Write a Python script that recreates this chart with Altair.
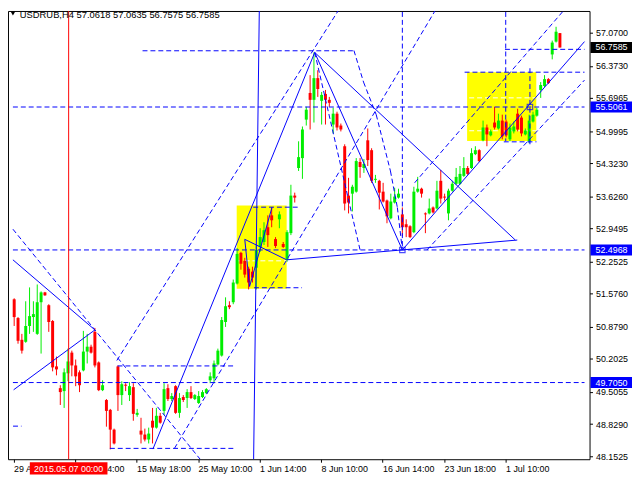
import json
import altair as alt
import pandas as pd

# ---------------- data (USDRUB, H4) ----------------
opens = [51.458, 51.063, 50.605, 50.563, 50.896, 51.084, 50.730, 51.396, 51.603, 51.333,
         51.000, 50.045, 49.587, 49.525, 49.899, 50.335, 50.065, 49.920, 49.961, 50.357,
         50.460, 50.772, 50.128, 49.545, 49.337, 49.130, 48.714, 50.045, 49.441, 49.660,
         49.441, 49.608, 49.025, 48.693, 48.610, 48.506, 48.901, 48.756, 49.005, 49.108,
         49.587, 49.358, 49.629, 49.067, 49.400, 49.379, 49.504, 49.358, 49.275, 49.400,
         49.483, 49.753, 49.795, 50.086, 50.273, 50.980, 51.333, 51.396, 51.790, 52.435,
         52.268, 52.102, 52.040, 52.123, 52.560, 52.664, 52.975, 53.225, 52.726, 53.142,
         52.622, 52.289, 52.851, 53.641, 54.222, 54.430, 55.241, 55.802, 55.657, 56.114,
         55.636, 55.782, 55.657, 55.137, 55.366, 55.116, 54.680, 53.641, 53.682, 53.724,
         54.348, 54.222, 54.805, 54.597, 53.973, 53.952, 53.724, 53.537, 53.163, 53.495,
         53.599, 53.246, 53.038, 52.996, 52.871, 53.724, 53.786, 53.266, 53.266, 53.391,
         53.370, 53.952, 53.620, 53.266, 53.744, 53.890, 53.890, 54.056, 54.222, 54.222,
         54.514, 54.597, 54.805, 55.075, 54.909, 55.179, 55.054, 55.220, 55.200, 54.825,
         54.992, 55.366, 55.283, 54.929, 54.784, 55.200, 55.324, 55.865, 55.948, 56.093,
         56.613, 56.883, 57.0618]
closes = [51.083, 50.584, 50.377, 50.896, 51.104, 51.146, 51.396, 51.603, 51.541, 50.980,
          50.024, 49.982, 49.504, 49.920, 50.149, 50.065, 49.836, 49.649, 50.357, 50.460,
          50.335, 50.065, 49.545, 49.649, 49.108, 48.714, 48.423, 49.441, 49.670, 49.639,
          49.629, 49.046, 49.067, 48.610, 48.506, 48.631, 48.756, 49.005, 48.860, 49.566,
          49.358, 49.421, 49.067, 49.379, 49.337, 49.504, 49.379, 49.441, 49.421, 49.504,
          49.566, 49.836, 50.107, 50.377, 51.021, 51.312, 51.292, 51.811, 52.414, 52.206,
          51.978, 51.811, 51.915, 52.497, 52.767, 52.913, 52.809, 53.121, 52.580, 53.246,
          52.560, 52.871, 53.641, 53.599, 54.451, 55.033, 55.449, 55.657, 56.114, 55.885,
          55.761, 55.657, 55.594, 55.366, 55.075, 55.033, 53.474, 53.495, 53.828, 54.368,
          54.243, 54.306, 54.389, 53.952, 53.994, 53.703, 53.516, 53.204, 53.516, 53.620,
          53.682, 52.975, 52.975, 52.767, 53.724, 53.786, 53.682, 53.246, 53.370, 53.287,
          53.744, 53.578, 53.599, 53.744, 53.890, 54.035, 54.098, 54.222, 54.098, 54.534,
          54.597, 54.368, 55.075, 54.929, 54.992, 55.075, 55.220, 54.888, 54.909, 55.075,
          55.096, 55.033, 54.950, 55.012, 55.220, 55.345, 55.449, 55.969, 56.093, 56.010,
          56.863, 57.091, 56.7585]
highs = [51.479, 51.084, 50.730, 51.416, 51.708, 51.416, 51.770, 51.624, 51.614, 51.354,
         51.021, 50.252, 49.649, 50.003, 50.419, 50.377, 50.190, 49.961, 50.793, 50.730,
         50.502, 50.855, 50.149, 49.753, 49.358, 49.150, 48.735, 50.065, 49.732, 49.691,
         49.712, 49.691, 49.150, 48.963, 48.735, 48.756, 49.171, 49.171, 49.067, 49.691,
         49.670, 49.483, 49.649, 49.483, 49.441, 49.566, 49.629, 49.462, 49.525, 49.545,
         49.587, 49.920, 50.169, 50.419, 51.084, 51.499, 51.416, 51.874, 52.539, 52.456,
         52.331, 52.144, 52.144, 52.601, 52.954, 53.080, 53.225, 53.391, 52.767, 53.308,
         52.664, 52.913, 53.869, 53.703, 54.784, 55.096, 55.511, 56.177, 56.655, 56.281,
         55.823, 55.865, 55.719, 55.491, 55.407, 55.158, 54.721, 54.015, 53.869, 54.431,
         54.431, 54.410, 55.054, 54.638, 54.077, 53.973, 53.910, 53.557, 53.682, 53.807,
         53.786, 53.391, 53.142, 53.017, 53.827, 54.035, 53.807, 53.287, 53.578, 53.412,
         53.952, 54.181, 53.682, 53.786, 53.952, 54.223, 54.264, 54.451, 54.264, 54.638,
         54.680, 54.618, 55.220, 55.137, 55.033, 55.511, 55.366, 55.345, 55.241, 55.158,
         55.200, 55.470, 55.324, 55.054, 55.345, 55.407, 55.491, 56.031, 56.177, 56.114,
         56.904, 57.195, 57.0635]
lows = [50.896, 50.523, 50.315, 50.543, 50.730, 50.772, 50.709, 50.315, 51.531, 50.772,
        49.941, 49.857, 49.233, 49.171, 49.733, 49.836, 49.629, 49.504, 49.941, 50.107,
        50.315, 50.024, 49.525, 49.525, 48.776, 48.298, 48.402, 49.108, 49.233, 49.525,
        49.316, 48.901, 48.984, 48.423, 48.465, 48.423, 48.423, 48.735, 48.839, 49.025,
        49.316, 49.316, 49.046, 48.963, 49.296, 49.171, 49.358, 49.337, 49.254, 49.379,
        49.462, 49.691, 49.691, 50.065, 50.252, 50.876, 51.250, 51.354, 51.770, 52.081,
        51.915, 51.666, 51.811, 51.666, 52.456, 52.601, 52.560, 52.975, 52.539, 52.954,
        52.539, 52.248, 52.809, 53.495, 54.160, 53.994, 55.116, 55.033, 55.179, 55.719,
        55.137, 55.137, 55.511, 54.950, 55.012, 54.992, 53.329, 53.266, 53.308, 53.703,
        54.015, 54.119, 54.264, 53.910, 53.910, 53.349, 53.495, 53.059, 53.142, 53.474,
        53.578, 52.788, 52.767, 52.747, 52.850, 53.703, 53.599, 52.850, 53.246, 53.266,
        53.349, 53.474, 53.537, 53.121, 53.724, 53.869, 53.869, 54.035, 54.077, 54.202,
        54.493, 54.348, 54.784, 54.680, 54.888, 55.033, 55.033, 54.825, 54.867, 54.784,
        54.950, 54.992, 54.888, 54.909, 54.742, 55.179, 55.303, 55.698, 55.927, 55.990,
        56.509, 56.863, 56.7575]

x_labels = ["29 Apr 2015", "7 May 14:00", "15 May 18:00", "25 May 10:00", "1 Jun 14:00",
            "8 Jun 10:00", "16 Jun 14:00", "23 Jun 18:00", "1 Jul 10:00"]
x_label_bars = [-0.15, 15.85, 31.85, 47.85, 63.85, 79.85, 95.85, 111.85, 127.85]
y_ticks = [57.0700, 56.3730, 55.6965, 54.9995, 54.3230, 53.6260, 52.9495, 52.2525,
           51.5760, 50.8790, 50.2025, 49.5055, 48.8290, 48.1525]

# horizontal price levels with axis boxes
level_prices = [56.7585, 55.5061, 52.4968, 49.7050]
level_labels = ["56.7585", "55.5061", "52.4968", "49.7050"]
level_colors = ["#000000", "#0000FF", "#0000FF", "#0000FF"]

# analysis objects: (bar1, price1, bar2, price2)
solid_segments = [
    (36.1, 48.305, 78.2, 56.655), (78.2, 56.655, 101.0, 52.497),
    (101.0, 52.497, 148.4, 56.883), (78.2, 56.655, 130.4, 52.705),
    (70.9, 52.289, 130.9, 52.705), (-0.33, 52.289, 21.0, 50.813),
    (-0.15, 49.552, 21.0, 50.813), (63.8, 57.673, 62.3, 48.090),
    (60.0, 52.720, 70.9, 52.289), (60.0, 52.720, 61.25, 51.728),
    (61.25, 51.728, 67.1, 53.397),
]
dashed_segments = [
    (-0.33, 55.5061, 148.4, 55.5061), (-0.33, 52.4968, 148.4, 52.4968),
    (-0.33, 49.7050, 148.4, 49.7050), (127.7, 56.720, 148.4, 56.720),
    (117.2, 56.239, 148.4, 56.239), (33.4, 56.690, 88.4, 56.690),
    (26.9, 50.055, 57.2, 50.055), (24.9, 48.319, 57.2, 48.319),
    (-0.3, 48.787, 1.9, 48.787), (62.2, 53.397, 74.2, 53.397),
    (62.4, 51.701, 74.9, 51.701), (127.4, 54.773, 135.9, 54.773),
    (101.0, 57.673, 101.0, 52.497), (127.9, 57.673, 127.9, 54.784),
    (134.2, 56.322, 134.2, 54.659),
    (26.7, 50.169, 85.4, 57.673), (41.7, 48.319, 110.4, 57.652),
    (-0.33, 52.934, 48.4, 48.090), (78.2, 56.655, 90.0, 52.497),
    (88.4, 56.696, 90.9, 56.031), (90.9, 56.031, 94.2, 55.345),
    (94.2, 55.345, 97.9, 54.160), (97.9, 54.160, 99.7, 53.391),
    (99.7, 53.391, 101.0, 52.497),
    (104.2, 53.911, 144.2, 57.652), (107.4, 52.497, 148.4, 56.073),
]
white_segments = [
    (57.9, 53.948, 70.9, 53.948), (57.9, 52.268, 70.9, 52.268),
    (118.4, 55.699, 135.85, 55.699), (118.4, 55.006, 135.85, 55.006),
]
yellow_boxes = [(57.9, 51.680, 70.9, 53.433), (117.85, 54.790, 135.85, 56.239)]
square_marks = [(101.0, 52.497), (134.2, 55.5061)]
vline_bar = 14.17
vline_text = "2015.05.07 00:00"
title_text = "USDRUB,H4  57.0618 57.0635 56.7575 56.7585"

# ---------------- chart ----------------
W, H = 589, 454
XD = [-0.325, 148.425]
YD = [48.0904, 57.5277]
FONT = "Liberation Sans"
BLUE = "#0000FF"
px_per_bar = W / (XD[1] - XD[0])
px_per_price = H / (YD[1] - YD[0])

xs = alt.Scale(domain=XD, nice=False, zero=False)
ys = alt.Scale(domain=YD, nice=False, zero=False)
x_axis = alt.Axis(values=x_label_bars,
                  labelExpr=json.dumps(x_labels) + "[round((datum.value + 0.15) / 16)]",
                  title=None, grid=False, domain=False, tickSize=3, tickColor="black",
                  labelAlign="left", labelBaseline="top", labelPadding=2, labelFont=FONT,
                  labelFontSize=9, labelColor="black", labelFlush=False, labelOverlap=False)
y_axis = alt.Axis(orient="right", values=y_ticks, format=".4f", title=None, grid=False,
                  domain=False, tickSize=3, tickColor="black", labelAlign="left",
                  labelBaseline="middle", labelPadding=3, labelFont=FONT, labelFontSize=9,
                  labelColor="black", labelFlush=False, labelOverlap=False)


def X(f):
    return alt.X(f, type="quantitative", scale=xs, axis=x_axis)


def Y(f):
    return alt.Y(f, type="quantitative", scale=ys, axis=y_axis)


n = len(opens)
candles = pd.DataFrame({"k": list(range(n)), "o": opens, "c": closes, "h": highs, "l": lows})
candles["dir"] = ["up" if c >= o else "down" for o, c in zip(opens, closes)]
cscale = alt.Scale(domain=["up", "down"], range=["#00EE00", "#FF0000"])


def seg_df(segs):
    return pd.DataFrame(segs, columns=["x", "y", "x2", "y2"])


boxes = alt.Chart(seg_df(yellow_boxes)).mark_rect(color="#FFFF00", clip=True).encode(
    x=X("x"), x2="x2", y=Y("y"), y2="y2")
white = alt.Chart(seg_df(white_segments)).mark_rule(
    color="white", strokeDash=[5, 3], strokeWidth=1, clip=True).encode(
    x=X("x"), y=Y("y"), x2="x2", y2="y2")
wicks = alt.Chart(candles).mark_rule(strokeWidth=1).encode(
    x=X("k"), y=Y("l"), y2="h", color=alt.Color("dir:N", scale=cscale, legend=None))
bodies = alt.Chart(candles).mark_bar(size=3).encode(
    x=X("k"), y=Y("o"), y2="c", color=alt.Color("dir:N", scale=cscale, legend=None))
solid = alt.Chart(seg_df(solid_segments)).mark_rule(
    color=BLUE, strokeWidth=1, clip=True).encode(x=X("x"), y=Y("y"), x2="x2", y2="y2")
dashed = alt.Chart(seg_df(dashed_segments)).mark_rule(
    color=BLUE, strokeWidth=1, strokeDash=[5, 3], clip=True).encode(
    x=X("x"), y=Y("y"), x2="x2", y2="y2")
squares = alt.Chart(pd.DataFrame(square_marks, columns=["x", "y"])).mark_square(
    filled=False, color=BLUE, size=30, strokeWidth=1.2).encode(x=X("x"), y=Y("y"))

vline_df = pd.DataFrame({"x": [vline_bar], "x1": [vline_bar - 40 / px_per_bar],
                         "x2": [vline_bar + 40 / px_per_bar], "t": [vline_text]})
vline = alt.Chart(vline_df).mark_rule(color="#FF0000", strokeWidth=1).encode(x=X("x"))
vbox = alt.Chart(vline_df).mark_rect(color="#FF0000").encode(
    x=X("x1"), x2="x2", y=alt.value(H + 3), y2=alt.value(H + 15.5))
vtext = alt.Chart(vline_df).mark_text(
    color="white", font=FONT, fontSize=9, align="center", baseline="middle").encode(
    x=X("x"), y=alt.value(H + 9.5), text="t:N")

half = 5.5 / px_per_price
lv = pd.DataFrame({"p": level_prices, "t": level_labels, "col": level_colors})
lv["lo"] = lv["p"] - half
lv["hi"] = lv["p"] + half
lvbox = alt.Chart(lv).mark_rect().encode(
    x=alt.value(W + 1), x2=alt.value(W + 43), y=Y("lo"), y2="hi",
    color=alt.Color("col:N", scale=None))
lvtext = alt.Chart(lv).mark_text(
    color="white", font=FONT, fontSize=9, align="left", baseline="middle").encode(
    x=alt.value(W + 6), y=Y("p"), text="t:N")

tri = alt.Chart(pd.DataFrame({"a": [0]})).mark_point(
    shape="triangle-down", filled=True, color="black", size=22, opacity=1).encode(
    x=alt.value(5), y=alt.value(2.5))
title = alt.Chart(pd.DataFrame({"t": [title_text]})).mark_text(
    font=FONT, fontSize=9.5, color="black", align="left", baseline="alphabetic").encode(
    x=alt.value(12), y=alt.value(7), text="t:N")

chart = alt.layer(
    boxes, white, wicks, bodies, solid, dashed, squares, vline, vbox, vtext,
    lvbox, lvtext, tri, title
).properties(
    width=W, height=H,
    autosize=alt.AutoSizeParams(type="none"),
    padding={"left": 0, "top": 0, "right": 43, "bottom": 18},
    background="white",
).configure_view(stroke="black", strokeWidth=1)

chart.save("out.html", embed_options={"renderer": "svg", "actions": False})
